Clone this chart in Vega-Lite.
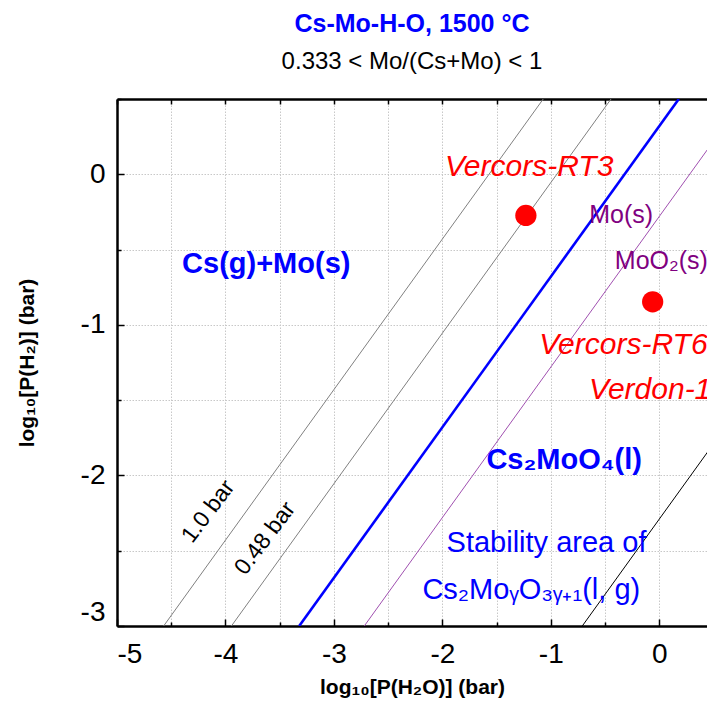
{
  "$schema": "https://vega.github.io/schema/vega-lite/v6.json",
  "width": 590,
  "height": 527,
  "autosize": {"type": "none"},
  "padding": {"left": 117, "top": 99, "right": 0, "bottom": 77},
  "config": {"view": {"stroke": null}, "font": "Liberation Sans"},
  "title": {
    "text": "Cs-Mo-H-O, 1500 °C",
    "subtitle": "0.333 < Mo/(Cs+Mo) < 1",
    "anchor": "middle",
    "frame": "group",
    "font": "Liberation Sans",
    "fontSize": 25,
    "fontWeight": "bold",
    "color": "#0000ff",
    "subtitleFont": "Liberation Sans",
    "subtitleFontSize": 24,
    "subtitleColor": "#000000",
    "subtitlePadding": 13,
    "offset": 24
  },
  "datasets": {
    "lines": [
      {"name": "1.0 bar", "x": -4.57, "y": -3, "x2": -1.07, "y2": 0.5},
      {"name": "0.48 bar", "x": -3.945, "y": -3, "x2": -0.445, "y2": 0.5},
      {"name": "Cs2MoO4", "x": -3.32, "y": -3, "x2": 0.18, "y2": 0.5},
      {"name": "MoO2", "x": -2.72, "y": -3, "x2": 0.78, "y2": 0.5},
      {"name": "Cs2MoyO3y+1", "x": -0.71, "y": -3, "x2": 2.79, "y2": 0.5}
    ],
    "points": [
      {"name": "Vercors-RT3", "x": -1.23, "y": -0.273},
      {"name": "Vercors-RT6 / Verdon-1", "x": -0.061, "y": -0.847}
    ],
    "redLabels": [
      {"label": "Vercors-RT3", "x": -1.976, "y": 0.047},
      {"label": "Vercors-RT6", "x": -1.107, "y": -1.131},
      {"label": "Verdon-1", "x": -0.648, "y": -1.435}
    ],
    "purpleLabels": [
      {"label": "Mo(s)", "x": -0.646, "y": -0.27},
      {"label": "MoO₂(s)", "x": -0.41, "y": -0.577}
    ],
    "boldLabels": [
      {"label": "Cs(g)+Mo(s)", "x": -3.624, "y": -0.599},
      {"label": "Cs₂MoO₄(l)", "x": -0.877, "y": -1.896}
    ],
    "blueLabels": [
      {"label": "Stability area of", "x": -1.04, "y": -2.449},
      {"label": "Cs₂MoᵧO₃ᵧ₊₁(l, g)", "x": -1.18, "y": -2.761}
    ],
    "pressureLabels": [
      {"label": "1.0 bar", "x": -4.16, "y": -2.24},
      {"label": "0.48 bar", "x": -3.635, "y": -2.418}
    ]
  },
  "layer": [
    {
      "data": {"name": "lines"},
      "transform": [{"filter": "datum.name !== 'Cs2MoO4'"}],
      "mark": {"type": "rule", "clip": true, "strokeWidth": 1},
      "encoding": {
        "x": {
          "field": "x", "type": "quantitative",
          "scale": {"domain": [-5, 0.44], "nice": false, "zero": false},
          "axis": {
            "orient": "bottom",
            "title": "log₁₀[P(H₂O)] (bar)",
            "titleFont": "Liberation Sans",
            "titleFontSize": 21,
            "titleFontWeight": "bold",
            "titleColor": "#000000",
            "titlePadding": 5,
            "values": [-5, -4.5, -4, -3.5, -3, -2.5, -2, -1.5, -1, -0.5, 0],
            "labelExpr": "datum.value % 1 === 0 ? datum.value : ''",
            "labelOverlap": false,
            "labelFlush": true,
            "labelFont": "Liberation Sans",
            "labelFontSize": 28,
            "labelColor": "#000000",
            "labelPadding": 21,
            "tickSize": {"condition": {"test": "datum.value % 1 !== 0", "value": -4}, "value": -7},
            "tickColor": "#000000",
            "tickWidth": 1.5,
            "domainColor": "#000000",
            "domainWidth": 2.5,
            "grid": true,
            "gridColor": "#c8c8c8",
            "gridDash": [1.5, 1.5],
            "gridWidth": 1
          }
        },
        "x2": {"field": "x2"},
        "y": {
          "field": "y", "type": "quantitative",
          "scale": {"domain": [-3, 0.5], "nice": false, "zero": false},
          "axis": {
            "orient": "left",
            "title": "log₁₀[P(H₂)] (bar)",
            "titleFont": "Liberation Sans",
            "titleFontSize": 21,
            "titleFontWeight": "bold",
            "titleColor": "#000000",
            "titlePadding": 43,
            "values": [-3, -2.5, -2, -1.5, -1, -0.5, 0, 0.5],
            "labelExpr": "datum.value % 1 === 0 ? datum.value : ''",
            "labelOverlap": false,
            "labelFlush": true,
            "labelFont": "Liberation Sans",
            "labelFontSize": 28,
            "labelColor": "#000000",
            "labelPadding": 19,
            "tickSize": {"condition": {"test": "datum.value % 1 !== 0", "value": -4}, "value": -7},
            "tickColor": "#000000",
            "tickWidth": 1.5,
            "domainColor": "#000000",
            "domainWidth": 2.5,
            "grid": true,
            "gridColor": "#c8c8c8",
            "gridDash": [1.5, 1.5],
            "gridWidth": 1
          }
        },
        "y2": {"field": "y2"},
        "color": {
          "field": "name", "type": "nominal",
          "scale": {"domain": ["1.0 bar", "0.48 bar", "MoO2", "Cs2MoyO3y+1"], "range": ["#808080", "#808080", "#a050b0", "#000000"]},
          "legend": null
        }
      }
    },
    {
      "data": {"name": "lines"},
      "transform": [{"filter": "datum.name === 'Cs2MoO4'"}],
      "mark": {"type": "rule", "clip": true, "strokeWidth": 2.6, "color": "#0000ff"},
      "encoding": {
        "x": {"field": "x", "type": "quantitative", "axis": null},
        "x2": {"field": "x2"},
        "y": {"field": "y", "type": "quantitative"},
        "y2": {"field": "y2"}
      }
    },
    {
      "data": {"name": "points"},
      "mark": {"type": "circle", "size": 452, "color": "#ff0000", "opacity": 1},
      "encoding": {
        "x": {
          "field": "x", "type": "quantitative",
          "scale": {"domain": [-5, 0.44], "nice": false, "zero": false},
          "axis": {
            "orient": "top",
            "title": null,
            "labels": false,
            "grid": false,
            "values": [-5, -4.5, -4, -3.5, -3, -2.5, -2, -1.5, -1, -0.5, 0],
            "tickSize": -5,
            "tickColor": "#000000",
            "tickWidth": 1.5,
            "domainColor": "#000000",
            "domainWidth": 2.5
          }
        },
        "y": {"field": "y", "type": "quantitative"}
      }
    },
    {
      "data": {"name": "redLabels"},
      "mark": {"type": "text", "align": "left", "baseline": "middle", "font": "Liberation Sans", "fontSize": 30, "fontStyle": "italic", "color": "#ff0000"},
      "encoding": {
        "x": {"field": "x", "type": "quantitative", "axis": null},
        "y": {"field": "y", "type": "quantitative"},
        "text": {"field": "label"}
      }
    },
    {
      "data": {"name": "purpleLabels"},
      "mark": {"type": "text", "align": "left", "baseline": "middle", "font": "Liberation Sans", "fontSize": 25, "color": "#800080"},
      "encoding": {
        "x": {"field": "x", "type": "quantitative", "axis": null},
        "y": {"field": "y", "type": "quantitative"},
        "text": {"field": "label"}
      }
    },
    {
      "data": {"name": "boldLabels"},
      "mark": {"type": "text", "align": "center", "baseline": "middle", "font": "Liberation Sans", "fontSize": 29, "fontWeight": "bold", "color": "#0000ff"},
      "encoding": {
        "x": {"field": "x", "type": "quantitative", "axis": null},
        "y": {"field": "y", "type": "quantitative"},
        "text": {"field": "label"}
      }
    },
    {
      "data": {"name": "blueLabels"},
      "mark": {"type": "text", "align": "center", "baseline": "middle", "font": "Liberation Sans", "fontSize": 29, "color": "#0000ff"},
      "encoding": {
        "x": {"field": "x", "type": "quantitative", "axis": null},
        "y": {"field": "y", "type": "quantitative"},
        "text": {"field": "label"}
      }
    },
    {
      "data": {"name": "pressureLabels"},
      "mark": {"type": "text", "align": "center", "baseline": "middle", "font": "Liberation Sans", "fontSize": 23, "angle": 307, "color": "#000000"},
      "encoding": {
        "x": {"field": "x", "type": "quantitative", "axis": null},
        "y": {"field": "y", "type": "quantitative"},
        "text": {"field": "label"}
      }
    }
  ],
  "resolve": {"axis": {"x": "independent"}}
}
